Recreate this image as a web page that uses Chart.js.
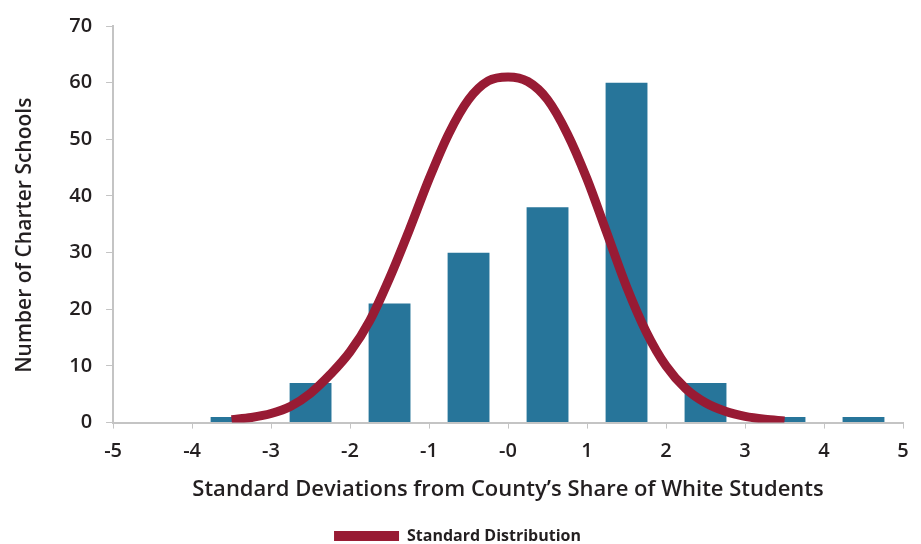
<!DOCTYPE html>
<html>
<head>
<meta charset="utf-8">
<script src="https://cdn.jsdelivr.net/npm/chart.js"></script>
<style>
  html, body { margin: 0; padding: 0; background: #fff; }
  #wrap { width: 921px; height: 544px; }
</style>
</head>
<body>
<div id="wrap"><canvas id="dist" width="921" height="544"></canvas></div>
<script>
  /*** datos ***/
  const binCenters = [-3.5, -2.5, -1.5, -0.5, 0.5, 1.5, 2.5, 3.5, 4.5];
  const schoolCounts = [1, 7, 21, 30, 38, 60, 7, 1, 1];

  const curveX = [-3.5, -3.25, -3, -2.75, -2.5, -2.25, -2, -1.75, -1.5, -1.25, -1, -0.75, -0.5, -0.25,
                  0, 0.25, 0.5, 0.75, 1, 1.25, 1.5, 1.75, 2, 2.25, 2.5, 2.75, 3, 3.25, 3.5];
  const curveY = [0.5, 0.9, 1.6, 2.9, 5.2, 8.5, 12.5, 18, 25.5, 34, 43, 51, 57, 60.3,
                  61, 60.2, 57, 51, 43, 33.5, 24, 16, 10, 6, 3.5, 2.0, 1.1, 0.6, 0.3];

  const xTicks = [-5, -4, -3, -2, -1, 0, 1, 2, 3, 4, 5];
  const yTicks = [0, 10, 20, 30, 40, 50, 60, 70];

  const textColor = '#231f20';
  const axisColor = '#c4c4c4';
  const barColor = '#27759a';
  const curveColor = '#981b34';
  const fontFamily = "'Open Sans', 'DejaVu Sans', sans-serif";

  const barPoints = binCenters.map((x, i) => ({x: x, y: schoolCounts[i]}));
  const curvePoints = curveX.map((x, i) => ({x: x, y: curveY[i]}));

  const ctx = document.getElementById('dist');

  new Chart(ctx, {
    type: 'bar',
    data: {
      datasets: [
        {
          type: 'line',
          label: 'Standard Distribution',
          data: curvePoints,
          borderColor: curveColor,
          backgroundColor: curveColor,
          borderWidth: 9,
          borderCapStyle: 'butt',
          pointRadius: 0,
          fill: false,
          cubicInterpolationMode: 'monotone',
          order: 0
        },
        {
          label: 'Charter Schools',
          data: barPoints,
          backgroundColor: barColor,
          categoryPercentage: 1,
          barPercentage: 0.53,
          order: 1
        }
      ]
    },
    options: {
      responsive: false,
      animation: false,
      layout: {
        padding: {left: 12, right: 18, top: 12, bottom: -10}
      },
      scales: {
        x: {
          type: 'linear',
          min: -5,
          max: 5,
          offset: false,
          afterBuildTicks: axis => { axis.ticks = xTicks.map(v => ({value: v})); },
          grid: {
            offset: false,
            drawOnChartArea: false,
            drawTicks: true,
            tickLength: 6,
            color: axisColor
          },
          border: {color: axisColor, width: 2},
          ticks: {
            color: textColor,
            padding: 11,
            font: {family: fontFamily, size: 20, weight: '600'},
            callback: v => (v === 0 ? '-0' : String(v))
          },
          title: {
            display: true,
            text: 'Standard Deviations from County\u2019s Share of White Students',
            color: textColor,
            font: {family: fontFamily, size: 22, weight: '600'},
            padding: {top: 2, bottom: 22}
          }
        },
        y: {
          min: 0,
          max: 70,
          afterBuildTicks: axis => { axis.ticks = yTicks.map(v => ({value: v})); },
          grid: {
            drawOnChartArea: false,
            drawTicks: true,
            tickLength: 7,
            color: axisColor
          },
          border: {color: axisColor, width: 2},
          ticks: {
            color: textColor,
            padding: 14,
            font: {family: fontFamily, size: 20, weight: '600'}
          },
          title: {
            display: true,
            // trailing spaces nudge the rotated title a little lower, as in the original
            text: 'Number of Charter Schools    ',
            color: textColor,
            font: {family: fontFamily, size: 21, weight: '600'},
            padding: {top: 0, bottom: 18}
          }
        }
      },
      plugins: {
        tooltip: {enabled: false},
        legend: {
          position: 'bottom',
          labels: {
            boxWidth: 65,
            boxHeight: 10,
            padding: 3,
            color: textColor,
            font: {family: fontFamily, size: 16, weight: '700'},
            filter: item => item.text === 'Standard Distribution',
            generateLabels: chart => {
              const items = Chart.defaults.plugins.legend.labels.generateLabels(chart);
              items.forEach(it => { it.lineWidth = 0; });
              return items;
            }
          }
        }
      }
    }
  });
</script>
</body>
</html>
